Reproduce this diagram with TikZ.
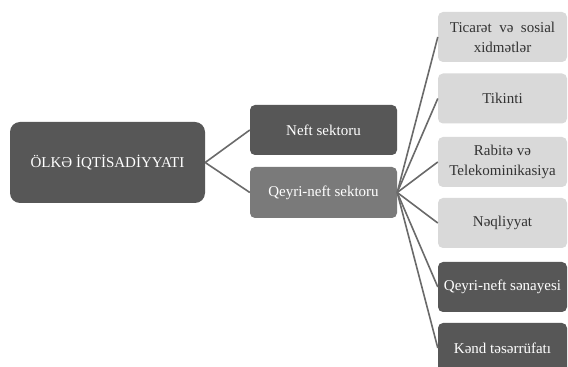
\documentclass[tikz,border=0pt]{standalone}
\usepackage{fontspec}
\setmainfont{Liberation Serif}
\usepackage{tikz}

\definecolor{darkbox}{HTML}{575757}
\definecolor{midbox}{HTML}{7A7A7A}
\definecolor{lightbox}{HTML}{D9D9D9}
\definecolor{linkgray}{HTML}{6A6A6A}

\begin{document}
\begin{tikzpicture}[x=1pt,y=1pt,
    box/.style={rounded corners=5pt,minimum width=129pt,minimum height=50pt,
        align=center,font=\fontsize{15}{20}\selectfont,inner sep=1pt},
    darkb/.style={box,fill=darkbox,text=white},
    midb/.style={box,fill=midbox,text=white},
    lightb/.style={box,fill=lightbox,text=black!80},
    link/.style={draw=linkgray,line width=1.6pt}]

        \clip (0,0) rectangle (568,367);
        \fill[white] (0,0) rectangle (568,367);

        \node[darkb,rounded corners=10pt,minimum width=195pt,minimum height=81pt]
            (olke) at (107.5,204.5) {ÖLKƏ İQTİSADİYYATI};
        \node[darkb,minimum width=147pt] (neft) at (323.5,237) {Neft sektoru};
        \node[midb,minimum width=147pt,minimum height=51pt] (qeyri) at (323.5,174.5) {Qeyri-neft sektoru};

        \foreach \yy/\nm/\st/\txt in {330/ticaret/lightb/{Ticarət\ \ və\ \ sosial\\xidmətlər},
                268.5/tikinti/lightb/{Tikinti},
                205/rabite/lightb/{Rabitə və\\Telekominikasiya},
                144/neqliyyat/lightb/{Nəqliyyat},
                80/senaye/darkb/{Qeyri-neft sənayesi},
                19/kend/darkb/{Kənd təsərrüfatı}}
            { \node[\st] (\nm) at (502.5,\yy) {\txt};
              \draw[link] (qeyri.east) -- (\nm.west);}

        \draw[link] (olke.east) -- (neft.west);
        \draw[link] (olke.east) -- (qeyri.west);
    \end{tikzpicture}
\end{document}
